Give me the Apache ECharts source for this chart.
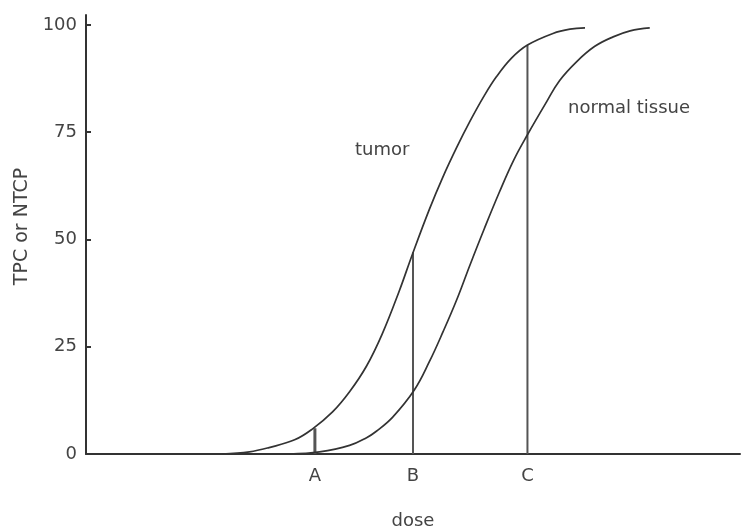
<!DOCTYPE html>
<html>
<head>
<meta charset="utf-8">
<script src="https://cdn.jsdelivr.net/npm/echarts@6/dist/echarts.min.js"></script>
<style>html,body{margin:0;padding:0;background:#fff}#c{width:744px;height:530px}</style>
</head>
<body>
<div id="c"></div>
<script>
// Tumor control probability curve (dose, %)
const tumorDose  = [20.8, 25.0, 28.0, 31.9, 34.6, 37.7, 40.3, 42.9, 45.3, 47.9, 49.9, 52.5, 54.5, 56.7, 58.7, 60.9, 62.8, 65.1, 67.5, 71.4, 74.0, 76.3];
const tumorValue = [0, 0.5, 1.5, 3.3, 5.8, 9.8, 14.5, 20.5, 28, 38, 46.5, 57, 64.3, 71.5, 77.5, 83.5, 88, 92.3, 95.3, 98, 99, 99.3];
// Normal tissue complication probability curve (dose, %)
const normalDose  = [31.1, 35.7, 40.3, 42.9, 44.4, 46.9, 50.2, 52.5, 54.6, 56.7, 58.7, 60.9, 63.2, 65.4, 67.5, 70.4, 72.4, 75.0, 77.8, 80.6, 83.2, 86.2];
const normalValue = [0, 0.5, 2, 3.8, 5.3, 8.6, 14.9, 21.5, 28.5, 36, 44, 52.5, 61, 68.5, 74.4, 82, 87, 91.4, 95, 97.2, 98.6, 99.3];
// Marked doses A, B, C and the heights of their vertical lines
const markerNames = ['A', 'B', 'C'];
const markerDose  = [35, 50, 67.5];
const markerTop   = [6, 47, 95.3];
// Y tick labels
const yTicks = [0, 25, 50, 75, 100];

const FONT = 'DejaVu Sans';
const zip = (xs, ys) => xs.map((x, i) => [x, ys[i]]);

const markerSeries = markerDose.map((d, i) => ({
  type: 'line',
  data: [[d, 0], [d, markerTop[i]]],
  symbol: 'none',
  lineStyle: { color: '#555', width: i === 0 ? 3 : 2 },
  z: 1,
  silent: true
}));

const chart = echarts.init(document.getElementById('c'), null, { renderer: 'canvas' });
chart.setOption({
  animation: false,
  backgroundColor: '#fff',
  grid: { left: 86, right: 4, top: 15, bottom: 76, containLabel: false, outerBoundsMode: 'none' },
  xAxis: {
    type: 'value', min: 0, max: 100,
    name: 'dose', nameLocation: 'middle', nameGap: 58,
    nameTextStyle: { fontFamily: FONT, fontSize: 18, color: '#444' },
    axisLine: { show: true, lineStyle: { color: '#333', width: 2 } },
    axisTick: { show: false },
    splitLine: { show: false },
    axisLabel: {
      customValues: markerDose,
      formatter: v => markerNames[markerDose.indexOf(v)] || '',
      margin: 13,
      fontFamily: FONT, fontSize: 18, color: '#444'
    }
  },
  yAxis: {
    type: 'value', min: 0, max: 102.3,
    name: 'TPC or NTCP', nameLocation: 'middle', nameGap: 53, nameRotate: 90,
    nameTextStyle: { fontFamily: FONT, fontSize: 19, color: '#444', padding: [0, 0, 0, 16] },
    axisLine: { show: true, lineStyle: { color: '#333', width: 2 } },
    axisTick: { show: true, inside: true, length: 5, customValues: yTicks, lineStyle: { color: '#333', width: 2 } },
    splitLine: { show: false },
    axisLabel: {
      customValues: yTicks,
      margin: 9,
      fontFamily: FONT, fontSize: 18, color: '#444'
    }
  },
  series: [
    {
      name: 'tumor', type: 'line', data: zip(tumorDose, tumorValue),
      smooth: 0.4, symbol: 'none',
      lineStyle: { color: '#333', width: 1.7 }, z: 2
    },
    {
      name: 'normal tissue', type: 'line', data: zip(normalDose, normalValue),
      smooth: 0.4, symbol: 'none',
      lineStyle: { color: '#333', width: 1.7 }, z: 2
    },
    ...markerSeries
  ],
  graphic: [
    { type: 'text', left: 355, top: 141, style: { text: 'tumor', font: '18px "DejaVu Sans"', fill: '#444' } },
    { type: 'text', left: 568, top: 99, style: { text: 'normal tissue', font: '18px "DejaVu Sans"', fill: '#444' } }
  ]
});
</script>
</body>
</html>
